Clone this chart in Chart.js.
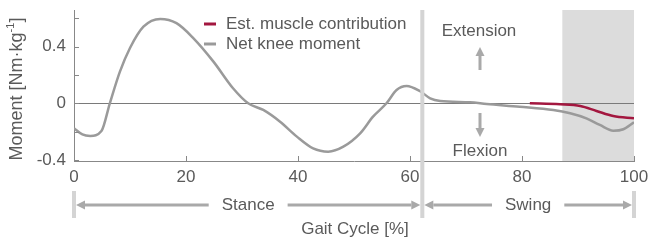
<!DOCTYPE html>
<html>
<head>
<meta charset="utf-8">
<script src="https://cdn.jsdelivr.net/npm/chart.js@4/dist/chart.umd.min.js"></script>
<style>
  html, body { margin: 0; padding: 0; background: #fff; }
  #wrap { width: 649px; height: 242px; }
</style>
</head>
<body>
<div id="wrap"><canvas id="kneeChart" width="649" height="242"></canvas></div>
<script>
// gait cycle [%] and moment [Nm/kg]
const netPct = [0, 1.5, 2.9, 4.9, 6.4, 8.2, 10, 12.4, 15.4, 18.3, 21.3, 24.9, 28.4, 31.1, 33.8, 36.8, 39.8, 42.7, 45.4, 48.1, 51.1, 53.4, 55.8, 57.6, 59.4, 61.8, 63.6, 65.4, 70.7, 73.7, 79.6, 85.6, 88.6, 91.5, 93.9, 96.3, 98.1, 100];
const netMoment = [-0.176, -0.22, -0.23, -0.196, 0, 0.223, 0.39, 0.54, 0.595, 0.565, 0.46, 0.294, 0.106, 0, -0.047, -0.13, -0.235, -0.318, -0.341, -0.306, -0.212, -0.094, 0, 0.094, 0.122, 0.085, 0.035, 0.016, 0.007, -0.005, -0.024, -0.047, -0.07, -0.106, -0.153, -0.193, -0.183, -0.134];

const musclePct = [81.4, 86.8, 90.4, 93.3, 96.3, 100];
const muscleMoment = [0, -0.007, -0.019, -0.054, -0.09, -0.106];

const xTicks = [0, 20, 40, 60, 80, 100];
const yTicks = [-0.4, -0.2, 0, 0.2, 0.4, 0.6];
const yLabels = ["-0.4", "0", "0.4"];

const toeOff = 62.2;       // stance / swing boundary
const shadeFrom = 87.2;    // shaded window

const FONT = "'Liberation Sans', Arial, sans-serif";
const TEXT = "#5a5a5a";
const GRAY = "#9a9a9a";
const RED = "#a3173f";
const BAR = "#d4d4d4";
const ARROW = "#a9a9a9";

function arrow(ctx, x1, y1, x2, y2) {
  // line from (x1,y1) with a head at (x2,y2)
  const a = Math.atan2(y2 - y1, x2 - x1);
  const hl = 9, hw = 4.5;
  const bx = x2 - hl * Math.cos(a), by = y2 - hl * Math.sin(a);
  ctx.strokeStyle = ARROW;
  ctx.fillStyle = ARROW;
  ctx.lineWidth = 3;
  ctx.beginPath();
  ctx.moveTo(x1, y1);
  ctx.lineTo(bx, by);
  ctx.stroke();
  ctx.beginPath();
  ctx.moveTo(x2, y2);
  ctx.lineTo(bx - hw * Math.sin(a), by + hw * Math.cos(a));
  ctx.lineTo(bx + hw * Math.sin(a), by - hw * Math.cos(a));
  ctx.closePath();
  ctx.fill();
}

const decor = {
  id: "decor",
  beforeDatasetsDraw(chart) {
    const { ctx, chartArea: ca, scales: { x, y } } = chart;
    ctx.save();
    // shaded window
    ctx.fillStyle = "#dcdcdc";
    ctx.fillRect(x.getPixelForValue(shadeFrom), ca.top, x.getPixelForValue(100) - x.getPixelForValue(shadeFrom), ca.bottom - ca.top);
    // zero line
    ctx.strokeStyle = "#7a7a7a";
    ctx.lineWidth = 1;
    ctx.beginPath();
    const zy = Math.round(y.getPixelForValue(0)) + 0.5;
    ctx.moveTo(ca.left, zy);
    ctx.lineTo(ca.right, zy);
    ctx.stroke();
    ctx.restore();
  },
  afterDatasetsDraw(chart) {
    const { ctx, chartArea: ca, scales: { x, y } } = chart;
    ctx.save();
    // inward ticks
    ctx.strokeStyle = "#888";
    ctx.lineWidth = 1;
    ctx.beginPath();
    yTicks.forEach(v => {
      const py = Math.round(y.getPixelForValue(v)) + 0.5;
      ctx.moveTo(ca.left, py);
      ctx.lineTo(ca.left + 5, py);
    });
    xTicks.forEach(v => {
      const px = Math.round(x.getPixelForValue(v)) + 0.5;
      ctx.moveTo(px, ca.bottom);
      ctx.lineTo(px, ca.bottom - 5);
    });
    ctx.stroke();

    // phase bars
    const x0 = x.getPixelForValue(0), xt = x.getPixelForValue(toeOff), x1 = x.getPixelForValue(100);
    ctx.fillStyle = BAR;
    ctx.fillRect(xt - 2, ca.top, 4, 218 - ca.top);
    ctx.fillRect(x0 - 2, 191, 4, 27);
    ctx.fillRect(x1 - 2, 191, 4, 27);

    // stance / swing arrows
    ctx.font = "17px " + FONT;
    ctx.fillStyle = TEXT;
    ctx.textAlign = "center";
    ctx.textBaseline = "middle";
    const ay = 205;
    const phase = (a, b, label) => {
      const mid = (a + b) / 2;
      const w = ctx.measureText(label).width / 2 + 13;
      ctx.fillStyle = TEXT;
      ctx.fillText(label, mid, ay);
      arrow(ctx, mid - w, ay, a + 2, ay);
      arrow(ctx, mid + w, ay, b - 2, ay);
    };
    phase(x0, xt, "Stance");
    phase(xt, x1, "Swing");
    ctx.fillStyle = TEXT;
    ctx.fillText("Gait Cycle [%]", 355, 229);

    // extension / flexion
    ctx.fillText("Extension", 479, 31);
    ctx.fillText("Flexion", 480, 151);
    arrow(ctx, 480, 70, 480, 47);
    arrow(ctx, 480, 113, 480, 137);

    // legend
    ctx.textAlign = "left";
    chart.data.datasets.slice().reverse().forEach((ds, i) => {
      const ly = 24 + i * 20;
      ctx.strokeStyle = ds.borderColor;
      ctx.lineWidth = 3;
      ctx.beginPath();
      ctx.moveTo(204, ly);
      ctx.lineTo(216, ly);
      ctx.stroke();
      ctx.fillStyle = TEXT;
      ctx.fillText(ds.label, 226, ly);
    });

    // y axis title
    ctx.translate(17, 89);
    ctx.rotate(-Math.PI / 2);
    ctx.font = "18px " + FONT;
    const t1 = "Moment [Nm\u00b7kg", sup = "-1", t2 = "]";
    const w1 = ctx.measureText(t1).width, w2 = ctx.measureText(t2).width;
    ctx.font = "11px " + FONT;
    const ws = ctx.measureText(sup).width;
    const start = -(w1 + ws + w2) / 2;
    ctx.textAlign = "left";
    ctx.font = "18px " + FONT;
    ctx.fillText(t1, start, 0);
    ctx.font = "11px " + FONT;
    ctx.fillText(sup, start + w1, -6);
    ctx.font = "18px " + FONT;
    ctx.fillText(t2, start + w1 + ws, 0);
    ctx.restore();
  }
};

new Chart(document.getElementById("kneeChart").getContext("2d"), {
  type: "line",
  data: {
    datasets: [
      {
        label: "Net knee moment",
        data: netPct.map((p, i) => ({ x: p, y: netMoment[i] })),
        borderColor: GRAY,
        borderWidth: 2.5,
        pointRadius: 0,
        cubicInterpolationMode: "monotone",
      },
      {
        label: "Est. muscle contribution",
        data: musclePct.map((p, i) => ({ x: p, y: muscleMoment[i] })),
        borderColor: RED,
        borderWidth: 2.5,
        pointRadius: 0,
        cubicInterpolationMode: "monotone",
      },
    ],
  },
  options: {
    responsive: false,
    animation: false,
    layout: { padding: { top: 10, right: 15, left: 0, bottom: 0 } },
    plugins: { legend: { display: false }, tooltip: { enabled: false } },
    scales: {
      x: {
        type: "linear",
        min: 0,
        max: 100,
        afterFit(s) { s.height = 81; s.paddingLeft = 0; s.paddingRight = 0; },
        afterBuildTicks(s) { s.ticks = xTicks.map(v => ({ value: v })); },
        grid: { display: false, drawTicks: false },
        border: { display: true, color: "#888", width: 1 },
        ticks: { padding: 6, color: TEXT, font: { family: FONT, size: 17 }, maxRotation: 0 },
      },
      y: {
        min: -0.407,
        max: 0.658,
        afterFit(s) { s.width = 74; s.paddingTop = 0; s.paddingBottom = 0; },
        afterBuildTicks(s) { s.ticks = yLabels.map(v => ({ value: Number(v) })); },
        grid: { display: false, drawTicks: false },
        border: { display: true, color: "#888", width: 1 },
        ticks: {
          padding: 8,
          color: TEXT,
          font: { family: FONT, size: 17 },
          callback: (v) => (v === 0 ? "0" : v.toFixed(1)),
        },
      },
    },
  },
  plugins: [decor],
});
</script>
</body>
</html>
